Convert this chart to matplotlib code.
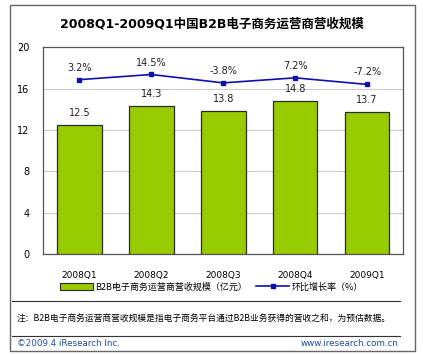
import matplotlib.pyplot as plt
from matplotlib.patches import Rectangle
from matplotlib.lines import Line2D

plt.rcParams['font.family'] = ['DejaVu Sans', 'Noto Sans CJK SC']

quarters = ['2008Q1', '2008Q2', '2008Q3', '2008Q4', '2009Q1']
revenue = [12.5, 14.3, 13.8, 14.8, 13.7]
growth = [3.2, 14.5, -3.8, 7.2, -7.2]
growth_labels = ['3.2%', '14.5%', '-3.8%', '7.2%', '-7.2%']

fig = plt.figure(figsize=(4.23, 3.55), dpi=100)
ax = fig.add_axes([0.1024, 0.2845, 0.8506, 0.5823])

x = range(len(quarters))
ax.bar(x, revenue, width=0.62, color='#99CC00', edgecolor='#2a2a2a', linewidth=0.9, zorder=3)
for i, v in enumerate(revenue):
    ax.annotate(f'{v}', (i, v), xytext=(0, 5), textcoords='offset points',
                ha='center', va='bottom', fontsize=7, color='#222222')

ax.set_xlim(-0.5, len(quarters) - 0.5)
ax.set_ylim(0, 20)
ax.set_yticks([0, 4, 8, 12, 16, 20])
ax.set_xticks(list(x))
ax.set_xticklabels(quarters, fontsize=6.5)
ax.tick_params(axis='y', labelsize=7, length=0, pad=10)
ax.tick_params(axis='x', length=0, pad=12)
ax.grid(axis='y', color='#cccccc', linewidth=0.8, zorder=0)
for s in ax.spines.values():
    s.set_color('#555555')
    s.set_linewidth(0.9)

# growth rate on a hidden second axis
ax2 = ax.twinx()
ax2.plot(x, growth, color='#1010B0', linewidth=1.2, marker='s', markersize=3.5, zorder=4)
ax2.set_ylim(-378, 74)
ax2.axis('off')
for i, v in enumerate(growth):
    ax2.annotate(growth_labels[i], (i, v), xytext=(0, 5), textcoords='offset points',
                 ha='center', va='bottom', fontsize=7, color='#222222')

fig.text(0.5, 0.932, '2008Q1-2009Q1中国B2B电子商务运营商营收规模', ha='center', va='center',
         fontsize=9, fontweight='bold', family=['DejaVu Sans', 'Noto Sans CJK SC'])

handles = [Rectangle((0, 0), 1, 1, facecolor='#99CC00', edgecolor='#2a2a2a', linewidth=0.8),
           Line2D([0], [0], color='#1010B0', linewidth=1.2, marker='s', markersize=3)]
fig.legend(handles, ['B2B电子商务运营商营收规模（亿元）', '环比增长率（%）'],
           loc='center', bbox_to_anchor=(0.5, 0.192), ncol=2, frameon=False,
           handlelength=3.6, handleheight=0.7, columnspacing=1.0,
           handletextpad=0.3, prop={'family': ['Noto Sans CJK SC'], 'size': 6.5})

# outer frame and separators
fig.patches.append(Rectangle((10 / 423, 4 / 355), 405 / 423, 346 / 355, transform=fig.transFigure,
                             fill=False, edgecolor='#666666', linewidth=1.0))
fig.add_artist(Line2D([12 / 423, 400 / 423], [1 - 301 / 355, 1 - 301 / 355], color='#333333', linewidth=0.8))
fig.add_artist(Line2D([12 / 423, 400 / 423], [1 - 336 / 355, 1 - 336 / 355], color='#333333', linewidth=0.8))

fig.text(17 / 423, 1 - 318 / 355, '注：B2B电子商务运营商营收规模是指电子商务平台通过B2B业务获得的营收之和，为预估数据。',
         ha='left', va='center', fontsize=6.3, family=['Noto Sans CJK SC'])
fig.text(17 / 423, 1 - 343 / 355, '©2009.4 iResearch Inc.', ha='left', va='center',
         fontsize=6.3, color='#1F4E9A')
fig.text(398 / 423, 1 - 343 / 355, 'www.iresearch.com.cn', ha='right', va='center',
         fontsize=6.3, color='#1F4E9A')

fig.savefig('out.png', dpi=100)
